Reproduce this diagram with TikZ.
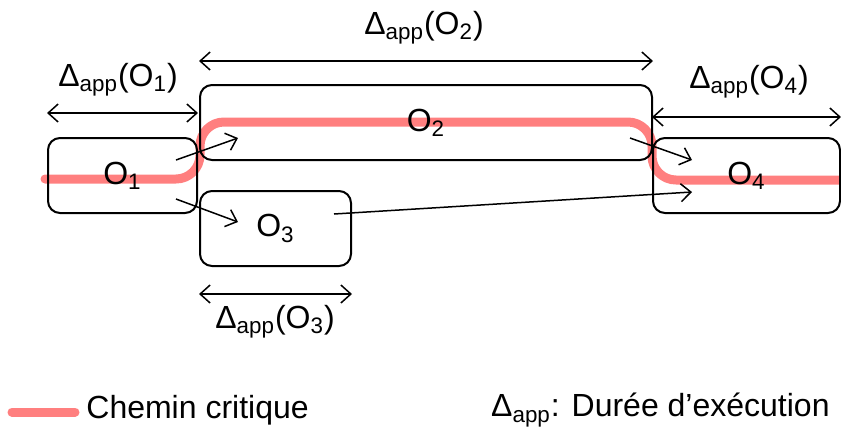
\documentclass[tikz,border=0pt]{standalone}
\usepackage{fontspec}
\setmainfont{Liberation Sans}
\usetikzlibrary{arrows.meta}

\newcommand{\dapp}[1]{Δ\textsubscript{app}(O\textsubscript{#1})}

\begin{document}
\begin{tikzpicture}[x=0.5pt, y=-0.5pt, line join=round,
    font=\fontsize{16}{19}\selectfont,
    opbox/.style={draw, line width=1pt, rounded corners=6pt, inner sep=0pt, minimum height=37.5pt},
    dim/.style={{Straight Barb[length=5pt,width=9pt]}-{Straight Barb[length=5pt,width=9pt]}, line width=0.75pt},
    prec/.style={-{Straight Barb[length=5pt,width=9pt]}, line width=0.75pt},
    critique/.style={line width=4.5pt, red, opacity=.5, line cap=round}]
  \useasboundingbox (0,0) rectangle (841,430);
  % critical path
  \draw[critique, rounded corners=12pt] (45,179) -- (200,179) -- (200,122) -- (652,122) -- (652,180) -- (848,180);
  % operations
  \node[opbox, minimum width=74.5pt] (o1) at (122.5,175.5) {O\textsubscript{1}};
  \node[opbox, minimum width=226pt] (o2) at (426,122.5) {O\textsubscript{2}};
  \node[opbox, minimum width=75.5pt] (o3) at (275.5,228.5) {O\textsubscript{3}};
  \node[opbox, minimum width=93.5pt] (o4) at (746.5,175.5) {O\textsubscript{4}};
  % durations
  \draw[dim] ([yshift=12pt]o1.north west) -- ([yshift=12pt]o1.north east);
  \draw[dim] ([yshift=11.5pt]o2.north west) -- ([yshift=11.5pt]o2.north east);
  \draw[dim] ([yshift=10pt]o4.north west) -- ([yshift=10pt]o4.north east);
  \draw[dim] ([yshift=-13.5pt]o3.south west) -- ([yshift=-13.5pt]o3.south east);
  \node (t1) at (118,80) {\dapp{1}};
  \node (t2) at (424,28) {\dapp{2}};
  \node (t4) at (749,82) {\dapp{4}};
  \node (t3) at (275,322) {\dapp{3}};
  % precedences
  \coordinate (s12) at (176,160); \coordinate (e12) at (238,138);
  \coordinate (s13) at (176,199); \coordinate (e13) at (238,222);
  \coordinate (s24) at (630,138); \coordinate (e24) at (692,160);
  \coordinate (s34) at (334,214); \coordinate (e34) at (692,192);
  \draw[prec] (s12) -- (e12);
  \draw[prec] (s13) -- (e13);
  \draw[prec] (s24) -- (e24);
  \draw[prec] (s34) -- (e34);
  % legend
  \draw[critique] (12,412) -- (75,412);
  \node[anchor=west, inner sep=0pt] (leg1) at (86,410) {Chemin critique};
  \node[anchor=east, inner sep=0pt] (leg2) at (830,410) {Δ\textsubscript{app}: Durée d’exécution};
\end{tikzpicture}
\end{document}
